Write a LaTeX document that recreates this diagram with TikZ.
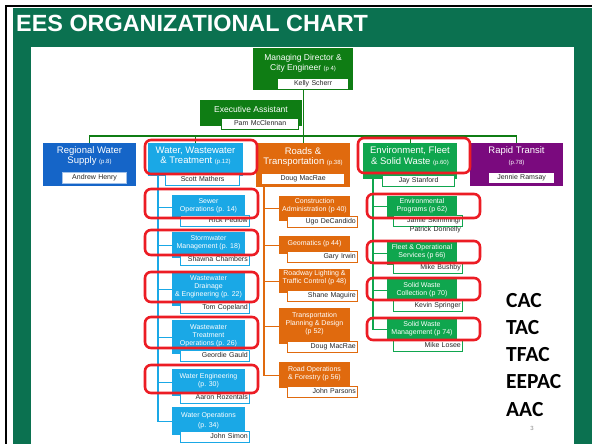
\documentclass[tikz,border=0pt]{standalone}
\usepackage{fontspec}
\setmainfont{Liberation Sans}
\newfontfamily\carl{Carlito}
\usetikzlibrary{calc}
\definecolor{slide}{HTML}{0B7150}
\definecolor{mdg}{HTML}{0F7D14}
\definecolor{rblue}{HTML}{1565C8}
\definecolor{lblue}{HTML}{1AA8E6}
\definecolor{orng}{HTML}{E06A0E}
\definecolor{eg}{HTML}{0FA64E}
\definecolor{purp}{HTML}{7A0A7E}
\definecolor{redm}{HTML}{EC1C24}
\tikzset{
 obox/.style={rectangle, inner sep=0pt, anchor=north west, draw=none},
 dtext/.style={text=white, align=center, font=\fontsize{9.5}{10.5}\selectfont, inner sep=0pt},
 stext/.style={text=white, align=center, font=\fontsize{7}{8}\selectfont, inner sep=0pt},
 mtext/.style={text=white, align=center, font=\fontsize{8.5}{10}\selectfont, inner sep=0pt},
 nameC/.style={rectangle, fill=white, draw=#1, line width=0.8pt, anchor=north west, inner xsep=2pt, inner ysep=2pt, text height=5.3pt, text depth=1.5pt, font=\fontsize{7}{8.5}\selectfont, text=black!85, align=center},
 nameR/.style={nameC=#1, align=right},
 redmark/.style={draw=redm, line width=2.6pt, rounded corners=6pt},
 cline/.style={draw=#1, line width=1.3pt},
 acro/.style={anchor=base west, inner sep=0pt, font=\carl\bfseries\fontsize{21.5}{26}\selectfont},
}
\newcommand\pr{\fontsize{6}{7}\selectfont}
\newcommand\unitBox[9]{%
 \node[obox, fill=#2, minimum width=#5pt, minimum height=#6pt] (#1) at (#3,#4) {};
 \node[#8] (#1t) at ({#3+#5/2},{#4+#7}) {#9};}
\newcommand\nameTag[7]{\pgfmathsetmacro\tagw{#5-4.6}\node[#6=#2, text width=\tagw pt] (#1) at (#3,#4) {#7};}
\begin{document}
\begin{tikzpicture}[x=1pt,y=-1pt]
\useasboundingbox (0,0) rectangle (592,444);
\fill[white] (0,0) rectangle (592,444);
\fill[slide] (13,8) rectangle (592,444);
\fill[white] (31,47) rectangle (574,444);
\draw[black, line width=1.6pt] (6,444) -- (6,6) -- (592,6);
\node[anchor=base west, inner sep=0pt, text=white, font=\bfseries\fontsize{23.4}{27}\selectfont] (title) at (16,32) {EES ORGANIZATIONAL CHART};

% top
\unitBox{md}{mdg}{253}{48}{100}{42}{15}{mtext}{Managing Director \&\\City Engineer {\pr(p 4)}}
\nameTag{mdN}{mdg}{277}{78}{72}{nameC}{Kelly Scherr}
\unitBox{ea}{mdg}{200}{100}{102}{26}{9}{mtext}{Executive Assistant}
\nameTag{eaN}{mdg}{221}{118}{78}{nameC}{Pam McClennan}

% divisions
\unitBox{rws}{rblue}{43}{143}{93}{43}{13}{dtext}{Regional Water\\Supply {\pr(p.8)}}
\nameTag{rwsN}{rblue!40}{62}{172}{65}{nameC}{Andrew Henry}
\unitBox{wwt}{lblue}{148}{143}{95}{33}{13}{dtext}{Water, Wastewater\\\& Treatment {\pr(p.12)}}
\nameTag{wwtN}{lblue}{165}{174}{75}{nameC}{Scott Mathers}
\unitBox{roads}{orng}{256}{143}{94}{44}{14}{dtext}{Roads \&\\Transportation {\pr(p.38)}}
\nameTag{roadsN}{orng}{261}{173}{84}{nameC}{Doug MacRae}
\unitBox{env}{eg}{363}{143}{94}{36}{13}{dtext}{Environment, Fleet\\\& Solid Waste {\pr(p.60)}}
\nameTag{envN}{eg}{382}{175}{73}{nameC}{Jay Stanford}
\unitBox{rapid}{purp}{470}{143}{93}{43}{13}{dtext}{Rapid Transit\\{\pr(p.78)}}
\nameTag{rapidN}{purp}{488}{172}{67}{nameC}{Jennie Ramsay}

% water units
\unitBox{sew}{lblue}{172}{195}{73}{24}{11}{stext}{Sewer\\Operations (p. 14)}
\nameTag{sewN}{lblue}{180}{215}{70}{nameR}{Rick Pedlow}
\unitBox{stw}{lblue}{172}{232}{73}{26}{10.5}{stext}{Stormwater\\Management (p. 18)}
\nameTag{stwN}{lblue}{180}{254}{70}{nameR}{Shawna Chambers}
\unitBox{wde}{lblue}{172}{272}{73}{34}{15}{stext}{Wastewater\\Drainage\\\& Engineering (p. 22)}
\nameTag{wdeN}{lblue}{180}{302}{70}{nameR}{Tom Copeland}
\unitBox{wto}{lblue}{172}{320}{73}{34}{16}{stext}{Wastewater\\Treatment\\Operations (p. 26)}
\nameTag{wtoN}{lblue}{180}{350}{70}{nameR}{Geordie Gauld}
\unitBox{wen}{lblue}{172}{369}{73}{27}{12}{stext}{Water Engineering\\(p. 30)}
\nameTag{wenN}{lblue}{180}{392}{70}{nameR}{Aaron Rozentals}
\unitBox{wop}{lblue}{172}{407}{73}{28}{14}{stext}{Water Operations\\[2pt](p. 34)}
\nameTag{wopN}{lblue}{180}{431}{70}{nameR}{John Simon}

% roads units
\unitBox{cad}{orng}{279}{196}{71}{25}{10}{stext}{Construction\\Administration (p 40)}
\nameTag{cadN}{orng}{287}{216}{71}{nameR}{Ugo DeCandido}
\unitBox{geo}{orng}{279}{236}{71}{18}{8}{stext}{Geomatics (p 44)}
\nameTag{geoN}{orng}{287}{251}{71}{nameR}{Gary Irwin}
\unitBox{rlt}{orng}{279}{269}{71}{24}{9}{stext}{Roadway Lighting \&\\Traffic Control (p 48)}
\nameTag{rltN}{orng}{287}{290}{71}{nameR}{Shane Maguire}
\unitBox{tpd}{orng}{279}{308}{71}{36}{16}{stext}{Transportation\\Planning \& Design\\(p 52)}
\nameTag{tpdN}{orng}{287}{341}{71}{nameR}{Doug MacRae}
\unitBox{rof}{orng}{279}{362}{71}{26}{12}{stext}{Road Operations\\\& Forestry (p 56)}
\nameTag{rofN}{orng}{287}{386}{71}{nameR}{John Parsons}

% environment units
\unitBox{epr}{eg}{387}{196}{70}{21}{9.5}{stext}{Environmental\\Programs (p 62)}
\nameTag{eprN}{eg}{393}{215}{70}{nameR}{Jamie Skimming/\\Patrick Donnelly}
\unitBox{fos}{eg}{387}{242}{70}{23}{10}{stext}{Fleet \& Operational\\Services (p 66)}
\nameTag{fosN}{eg}{393}{262}{70}{nameR}{Mike Bushby}
\unitBox{swc}{eg}{387}{279}{70}{22}{11}{stext}{Solid Waste\\Collection (p 70)}
\nameTag{swcN}{eg}{393}{300}{70}{nameR}{Kevin Springer}
\unitBox{swm}{eg}{387}{319}{70}{21}{9.5}{stext}{Solid Waste\\Management (p 74)}
\nameTag{swmN}{eg}{393}{340}{70}{nameR}{Mike Losee}

% connectors
\coordinate (bar) at (303,136);
\draw[cline=mdg] (mdN.south -| md.south) -- (roads.north);
\draw[cline=mdg] (rws.north) |- (bar) -| (rapid.north);
\draw[cline=mdg] (wwt.north) -- (wwt.north |- bar);
\draw[cline=mdg] (env.north) -- (env.north |- bar);

\coordinate (spW) at (158,176);
\foreach \u in {sew,stw,wde,wto,wen,wop} \draw[cline=lblue] (spW) |- (\u.west);
\coordinate (spR) at (264,187);
\foreach \u in {cad,geo,rlt,tpd,rof} \draw[cline=orng] (spR) |- (\u.west);
\coordinate (spE) at (373,179);
\foreach \u in {epr,fos,swc,swm} \draw[cline=eg] (spE) |- (\u.west);

% red highlights
\draw[redmark] (145,140) rectangle (257,174);
\draw[redmark] (358,138) rectangle (470,173);
\draw[redmark] (145,189) rectangle (258,218);
\draw[redmark] (145,230) rectangle (258,255);
\draw[redmark] (145,272) rectangle (258,302);
\draw[redmark] (145,317) rectangle (258,348);
\draw[redmark] (145,365) rectangle (258,393);
\draw[redmark] (367,194) rectangle (480,218);
\draw[redmark] (367,241) rectangle (480,263);
\draw[redmark] (367,278) rectangle (480,300);
\draw[redmark] (367,318) rectangle (480,340);

% committees
\node[acro] (cac) at (506,307) {CAC};
\node[acro] (tac) at (506,334) {TAC};
\node[acro] (tfac) at (506,361) {TFAC};
\node[acro] (eepac) at (506,388) {EEPAC};
\node[acro] (aac) at (506,416) {AAC};
\node[inner sep=0pt, text=black!45, font=\fontsize{6}{7}\selectfont] (pg) at (532,428) {3};
\end{tikzpicture}
\end{document}
